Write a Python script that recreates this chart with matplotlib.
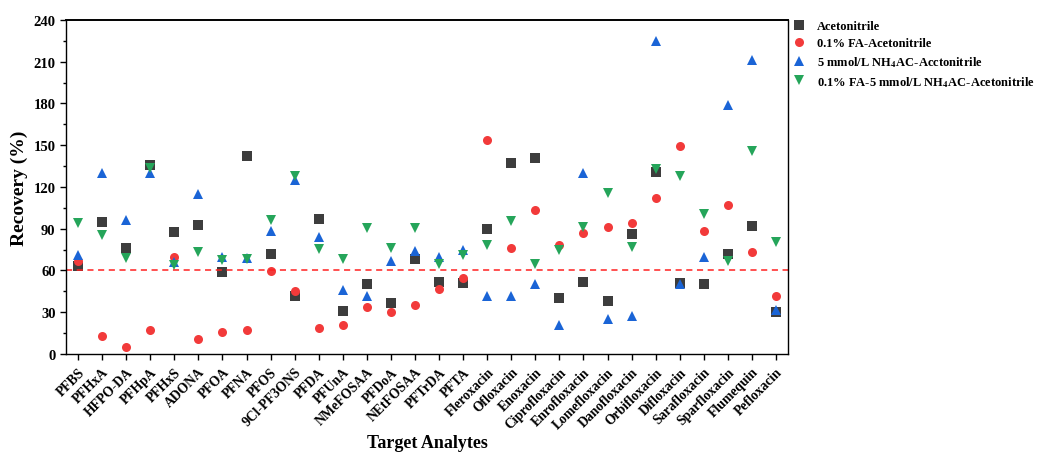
import matplotlib.pyplot as plt
from matplotlib.ticker import MultipleLocator

plt.rcParams['font.family'] = ['Liberation Serif', 'DejaVu Serif']
plt.rcParams['font.weight'] = 'bold'
plt.rcParams['mathtext.fontset'] = 'stix'

analytes = ['PFBS', 'PFHxA', 'HFPO-DA', 'PFHpA', 'PFHxS', 'ADONA', 'PFOA', 'PFNA',
            'PFOS', '9Cl-PF3ONS', 'PFDA', 'PFUnA', 'NMeFOSAA', 'PFDoA', 'NEtFOSAA',
            'PFTrDA', 'PFTA', 'Fleroxacin', 'Ofloxacin', 'Enoxacin', 'Ciprofloxacin',
            'Enrofloxacin', 'Lomefloxacin', 'Danofloxacin', 'Orbifloxacin',
            'Difloxacin', 'Sarafloxacin', 'Sparfloxacin', 'Flumequin', 'Pefloxacin']

acn = [63, 95, 76, 136, 88, 93, 59, 142.5, 72, 42, 97, 31, 50, 37, 68,
       51.5, 51, 90, 137, 141, 40, 51.5, 38, 86, 131, 51, 50, 72, 92, 30]
fa_acn = [67, 13, 5, 17, 70, 11, 15.5, 17, 59.5, 45, 19, 20.5, 34, 30.5, 35,
          46.5, 54.5, 154, 76, 103.5, 78, 87, 91, 94, 112, 149.5, 88.5, 107, 73, 42]
nh4_acn = [71, 130, 96, 130, 66, 115, 70, 69, 88.5, 125, 84, 46, 42, 67, 74,
           70, 74.5, 42, 42, 50, 21, 130, 25, 27.5, 225, 50, 70, 179, 211, 31.5]
fa_nh4_acn = [94, 85.5, 69, 134, 64, 73, 67.5, 68.5, 96.5, 128, 75.5, 68.5, 90.5, 76, 90.5,
              64.5, 71, 78, 95.5, 65, 75, 91, 115.5, 77, 133, 128, 100.5, 66.5, 145.5, 80.5]

series = [
    (acn, 's', '#3d3d3d', 'Acetonitrile'),
    (fa_acn, 'o', '#f23a3a', '0.1% FA-Acetonitrile'),
    (nh4_acn, '^', '#1a64d6', r'5 mmol/L NH$_{\mathbf{4}}$AC-Acctonitrile'),
    (fa_nh4_acn, 'v', '#25a55a', r'0.1% FA-5 mmol/L NH$_{\mathbf{4}}$AC-Acetonitrile'),
]

fig = plt.figure(figsize=(10.39, 4.56), dpi=100)
ax = fig.add_axes([0.0635, 0.2215, 0.695, 0.7325])

x = list(range(len(analytes)))
for vals, mk, col, lab in series:
    ax.plot(x, vals, linestyle='none', marker=mk, color=col, markersize=6.5,
            markeredgewidth=0, label=lab)

ax.axhline(60, color='#ff2020', linestyle=(0, (4, 3)), linewidth=1.1)

ax.set_xlim(-0.5, len(analytes) - 0.5)
ax.set_ylim(0, 240)
ax.yaxis.set_major_locator(MultipleLocator(30))
ax.yaxis.set_minor_locator(MultipleLocator(15))
ax.set_xticks(x)
ax.set_xticklabels(analytes, rotation=45, ha='right', rotation_mode='anchor',
                   fontsize=9.8, fontweight='bold')
for lbl in ax.get_yticklabels():
    lbl.set_fontsize(10.5)
    lbl.set_fontweight('bold')
ax.tick_params(axis='both', direction='out', length=4, width=1)
ax.tick_params(axis='y', which='minor', direction='out', length=2.5, width=1)
ax.tick_params(axis='x', pad=4)
for sp in ax.spines.values():
    sp.set_linewidth(1.0)
ax.spines['top'].set_linewidth(1.4)

ax.set_ylabel('Recovery (%)', fontsize=14, fontweight='bold', labelpad=4)
ax.set_xlabel('Target Analytes', fontsize=13, fontweight='bold', labelpad=2)

leg = ax.legend(loc='upper left', bbox_to_anchor=(1.0, 1.015), frameon=False,
                fontsize=9, handletextpad=0.9, labelspacing=0.4,
                borderaxespad=0.0, handlelength=1.0)
for t in leg.get_texts():
    t.set_fontweight('bold')

fig.savefig('out.png', dpi=100)
